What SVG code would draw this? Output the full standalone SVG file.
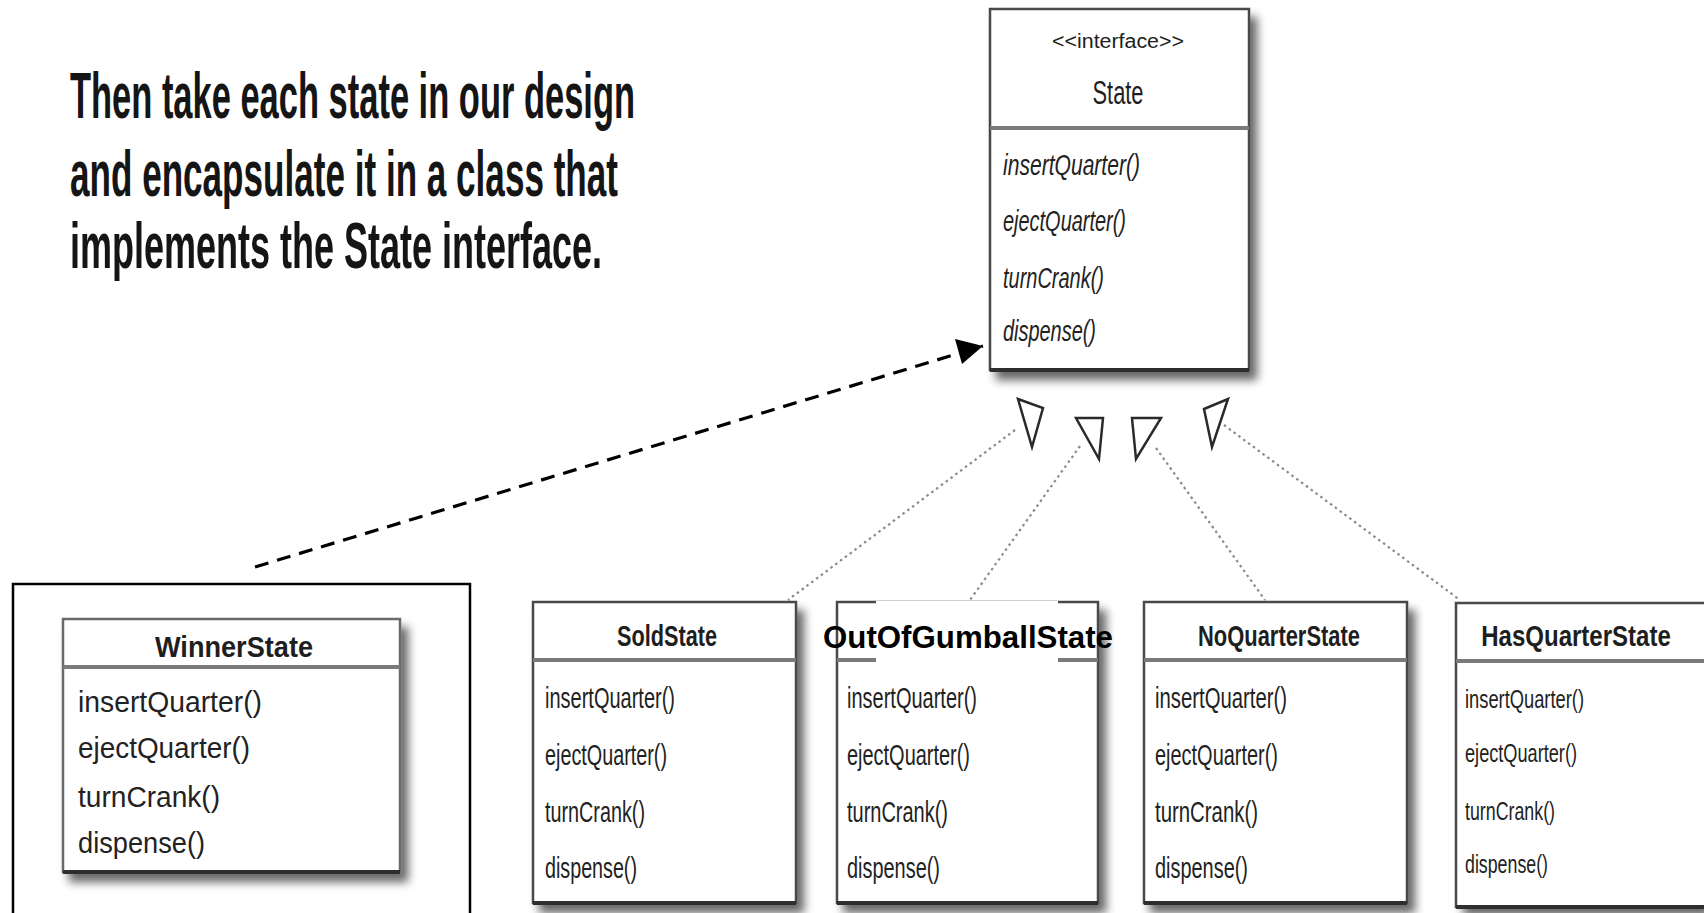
<svg xmlns="http://www.w3.org/2000/svg" width="1704" height="913" viewBox="0 0 1704 913">
  <style>
    .box { fill: #ffffff; stroke: #4a4a4a; stroke-width: 2.5; }
    .div { stroke: #7a7a7a; stroke-width: 4; }
    .bot { stroke: #2e2e2e; stroke-width: 4; }
    .ttl { font-family: "Liberation Sans", Arial, sans-serif; font-size: 30px; fill: #1e1e1e; text-anchor: middle; font-weight: bold; }
    .m { font-family: "Liberation Sans", Arial, sans-serif; font-size: 29px; fill: #222222; }
    .mi { font-family: "Liberation Sans", Arial, sans-serif; font-size: 30px; fill: #222222; font-style: italic; }
    .cap { font-family: "Liberation Sans", Arial, sans-serif; font-size: 64px; font-weight: bold; fill: #151515; }
    .dot { fill: none; stroke: #8a8a8a; stroke-width: 2.2; stroke-dasharray: 2.5 3.5; }
    .tri { fill: #ffffff; stroke: #2a2a2a; stroke-width: 2.5; stroke-linejoin: miter; }
    .dash { fill: none; stroke: #000000; stroke-width: 3.2; stroke-dasharray: 14 9; }
  </style>
  <defs>
    <filter id="sh" x="-10%" y="-10%" width="130%" height="130%">
      <feGaussianBlur in="SourceAlpha" stdDeviation="5"/>
      <feOffset dx="7" dy="9" result="b"/>
      <feComponentTransfer><feFuncA type="linear" slope="0.6"/></feComponentTransfer>
      <feMerge><feMergeNode/><feMergeNode in="SourceGraphic"/></feMerge>
    </filter>
  </defs>

  <rect width="1704" height="913" fill="#ffffff"/>

  <g id="caption" transform="scale(0.5,1)">
    <text class="cap" x="140" y="118" textLength="1130" lengthAdjust="spacingAndGlyphs">Then take each state in our design</text>
    <text class="cap" x="140" y="196" textLength="1096" lengthAdjust="spacingAndGlyphs">and encapsulate it in a class that</text>
    <text class="cap" x="140" y="268" textLength="1064" lengthAdjust="spacingAndGlyphs">implements the State interface.</text>
  </g>

  <g id="connectors">
    <line x1="255" y1="567" x2="983" y2="346" class="dash"/>
    <path d="M983,346 L955,339 L962,364 Z" fill="#000"/>
    <line x1="1015" y1="430" x2="788" y2="600" class="dot"/>
    <line x1="1080" y1="446" x2="970" y2="600" class="dot"/>
    <line x1="1156" y1="448" x2="1265" y2="600" class="dot"/>
    <line x1="1224" y1="425" x2="1460" y2="600" class="dot"/>
    <polygon class="tri" points="1018,399 1043,408 1032,447"/>
    <polygon class="tri" points="1076,418 1103,418 1099,459"/>
    <polygon class="tri" points="1132,418 1161,418 1136,459"/>
    <polygon class="tri" points="1204,409 1228,399 1212,447"/>
  </g>

  <g id="state">
    <rect class="box" x="990" y="9" width="259" height="361" filter="url(#sh)"/>
    <line class="div" x1="990" y1="128" x2="1249" y2="128"/>
    <line class="bot" x1="990" y1="370" x2="1249" y2="370"/>
    <text class="ttl" x="1118" y="48" style="font-size:20px;font-weight:normal" textLength="132" lengthAdjust="spacingAndGlyphs">&lt;&lt;interface&gt;&gt;</text>
    <text class="ttl" x="1118" y="104" style="font-size:33px;font-weight:normal" textLength="51" lengthAdjust="spacingAndGlyphs">State</text>
    <text class="mi" x="1003" y="175" textLength="137" lengthAdjust="spacingAndGlyphs">insertQuarter()</text>
    <text class="mi" x="1003" y="231" textLength="123" lengthAdjust="spacingAndGlyphs">ejectQuarter()</text>
    <text class="mi" x="1003" y="288" textLength="101" lengthAdjust="spacingAndGlyphs">turnCrank()</text>
    <text class="mi" x="1003" y="341" textLength="93" lengthAdjust="spacingAndGlyphs">dispense()</text>
  </g>

  <g id="winnerstate">
    <rect x="13" y="584" width="457" height="340" fill="none" stroke="#000" stroke-width="2.5"/>
    <rect class="box" x="63" y="619" width="337" height="253" filter="url(#sh)" style="stroke:#6a6a6a"/>
    <line class="div" x1="63" y1="667" x2="400" y2="667"/>
    <line class="bot" x1="63" y1="872" x2="400" y2="872"/>
    <text class="ttl" x="234" y="657" style="font-size:29px" textLength="158" lengthAdjust="spacingAndGlyphs">WinnerState</text>
    <text class="m" x="78" y="712" textLength="184" lengthAdjust="spacingAndGlyphs">insertQuarter()</text>
    <text class="m" x="78" y="758" textLength="172" lengthAdjust="spacingAndGlyphs">ejectQuarter()</text>
    <text class="m" x="78" y="807" textLength="142" lengthAdjust="spacingAndGlyphs">turnCrank()</text>
    <text class="m" x="78" y="853" textLength="127" lengthAdjust="spacingAndGlyphs">dispense()</text>
  </g>

  <g id="soldstate">
    <rect class="box" x="533" y="602" width="263" height="301" filter="url(#sh)"/>
    <line class="div" x1="533" y1="660" x2="796" y2="660"/>
    <line class="bot" x1="533" y1="903" x2="796" y2="903"/>
    <text class="ttl" x="667" y="646" textLength="100" lengthAdjust="spacingAndGlyphs">SoldState</text>
    <text class="m" x="545" y="708" textLength="130" lengthAdjust="spacingAndGlyphs">insertQuarter()</text>
    <text class="m" x="545" y="765" textLength="122" lengthAdjust="spacingAndGlyphs">ejectQuarter()</text>
    <text class="m" x="545" y="822" textLength="100" lengthAdjust="spacingAndGlyphs">turnCrank()</text>
    <text class="m" x="545" y="878" textLength="92" lengthAdjust="spacingAndGlyphs">dispense()</text>
  </g>

  <g id="outofgumballstate">
    <rect class="box" x="837" y="602" width="261" height="301" filter="url(#sh)"/>
    <line class="div" x1="837" y1="660" x2="1098" y2="660"/>
    <line class="bot" x1="837" y1="903" x2="1098" y2="903"/>
    <rect x="876" y="601" width="182" height="61" fill="#ffffff"/>
    <text x="968" y="648" font-family="Liberation Sans, Arial, sans-serif" font-size="31" font-weight="bold" fill="#000" text-anchor="middle" textLength="290" lengthAdjust="spacingAndGlyphs">OutOfGumballState</text>
    <text class="m" x="847" y="708" textLength="130" lengthAdjust="spacingAndGlyphs">insertQuarter()</text>
    <text class="m" x="847" y="765" textLength="123" lengthAdjust="spacingAndGlyphs">ejectQuarter()</text>
    <text class="m" x="847" y="822" textLength="101" lengthAdjust="spacingAndGlyphs">turnCrank()</text>
    <text class="m" x="847" y="878" textLength="93" lengthAdjust="spacingAndGlyphs">dispense()</text>
  </g>

  <g id="noquarterstate">
    <rect class="box" x="1144" y="602" width="263" height="301" filter="url(#sh)"/>
    <line class="div" x1="1144" y1="660" x2="1407" y2="660"/>
    <line class="bot" x1="1144" y1="903" x2="1407" y2="903"/>
    <text class="ttl" x="1279" y="646" textLength="162" lengthAdjust="spacingAndGlyphs">NoQuarterState</text>
    <text class="m" x="1155" y="708" textLength="132" lengthAdjust="spacingAndGlyphs">insertQuarter()</text>
    <text class="m" x="1155" y="765" textLength="123" lengthAdjust="spacingAndGlyphs">ejectQuarter()</text>
    <text class="m" x="1155" y="822" textLength="103" lengthAdjust="spacingAndGlyphs">turnCrank()</text>
    <text class="m" x="1155" y="878" textLength="93" lengthAdjust="spacingAndGlyphs">dispense()</text>
  </g>

  <g id="hasquarterstate">
    <rect x="1456" y="603" width="248" height="304" fill="#ffffff" filter="url(#sh)"/>
    <path d="M1704,603 H1456 V907 H1704" fill="none" stroke="#4a4a4a" stroke-width="2.5"/>
    <line class="div" x1="1456" y1="661" x2="1704" y2="661"/>
    <line class="bot" x1="1456" y1="907" x2="1704" y2="907"/>
    <text class="ttl" transform="translate(1576,646) scale(0.8,1)" x="0" y="0" textLength="237" lengthAdjust="spacingAndGlyphs">HasQuarterState</text>
    <text class="m" x="1465" y="708" style="font-size:26px" textLength="119" lengthAdjust="spacingAndGlyphs">insertQuarter()</text>
    <text class="m" x="1465" y="762" style="font-size:26px" textLength="112" lengthAdjust="spacingAndGlyphs">ejectQuarter()</text>
    <text class="m" x="1465" y="820" style="font-size:26px" textLength="90" lengthAdjust="spacingAndGlyphs">turnCrank()</text>
    <text class="m" x="1465" y="873" style="font-size:26px" textLength="83" lengthAdjust="spacingAndGlyphs">dispense()</text>
  </g>
</svg>
